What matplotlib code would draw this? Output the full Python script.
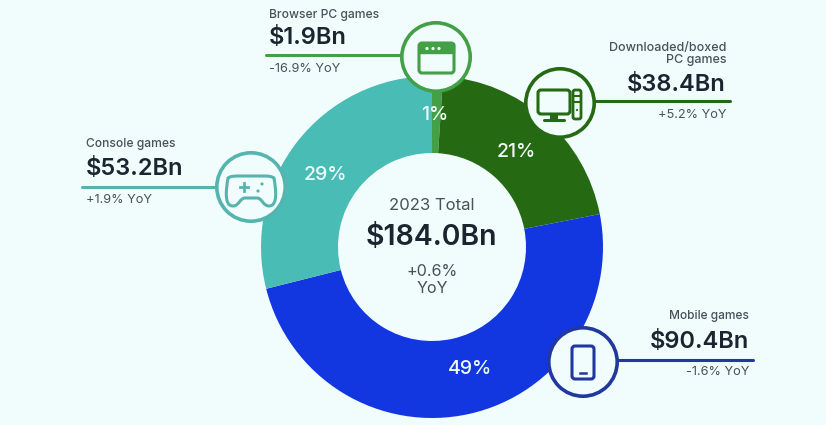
import matplotlib
matplotlib.use("Agg")
import matplotlib.pyplot as plt
from matplotlib.patches import Circle, FancyBboxPatch, Rectangle, PathPatch
from matplotlib.path import Path

categories = ["Browser PC games", "Downloaded/boxed\nPC games", "Mobile games", "Console games"]
revenue = [1.9, 38.4, 90.4, 53.2]
share_labels = ["1%", "21%", "49%", "29%"]
amounts = ["$1.9Bn", "$38.4Bn", "$90.4Bn", "$53.2Bn"]
yoy = ["-16.9% YoY", "+5.2% YoY", "-1.6% YoY", "+1.9% YoY"]
colors = ["#43A047", "#256A13", "#1237E0", "#49BDB5"]
line_colors = ["#43A047", "#256A13", "#22389F", "#55B5AE"]
total_title = "2023 Total"
total_amount = "$184.0Bn"
total_yoy = "+0.6%\nYoY"

W, H = 826, 425
BG = "#F1FCFD"
INK = "#1B2530"
GREY = "#47525A"
plt.rcParams["font.family"] = ["Inter", "DejaVu Sans"]

fig = plt.figure(figsize=(W / 100, H / 100), dpi=100, facecolor=BG)
ax = fig.add_axes([0, 0, 1, 1], facecolor=BG)
Y = lambda y: H - y

cx, cy, R, r = 432, 247, 171, 94
ax.pie(revenue, colors=colors, startangle=90, counterclock=False, center=(cx, Y(cy)), radius=R,
       wedgeprops=dict(width=R - r, linewidth=0), frame=False)
ax.set_xlim(0, W)
ax.set_ylim(0, H)
ax.set_aspect("equal")
ax.axis("off")

# share labels inside the ring
share_pos = [(435, 115), (516, 152), (470, 369), (325, 175)]
for (x, y), s in zip(share_pos, share_labels):
    ax.text(x, Y(y), s, color="#EFFBF8", fontsize=14, fontweight="medium", ha="center", va="center", zorder=6)

# centre text
ax.text(432, Y(205), total_title, color=GREY, fontsize=12, ha="center", va="center")
ax.text(431.5, Y(237), total_amount, color=INK, fontsize=20.5, fontweight="semibold", ha="center", va="center")
ax.text(432, Y(280), total_yoy, color=GREY, fontsize=11.6, ha="center", va="center", linespacing=1.15)

# callouts: circle centre, line span, line y, text anchor
circles = [(436, 57), (560, 103), (583, 362), (251, 187)]
spans = [(266, 402), (594, 730), (617, 753), (82, 217)]
line_y = [55, 101, 360, 187]
text_x = [269, 726, 749, 86]
aligns = ["left", "right", "right", "left"]
name_y = [15, 54, 316, 144]
amt_y = [38, 85, 342, 169]
yoy_y = [69, 115, 372, 200]
name_size = [8.7, 9.0, 8.6, 8.7]

for i in range(4):
    c = line_colors[i]
    ax.plot(spans[i], [Y(line_y[i])] * 2, color=c, lw=2.2, solid_capstyle="round", zorder=3)
    ax.add_patch(Circle((circles[i][0], Y(circles[i][1])), 34.2, facecolor=BG, edgecolor=c, lw=2.6, zorder=4))
    ax.text(text_x[i], Y(name_y[i]), categories[i], color=GREY, fontsize=name_size[i], fontweight="medium",
            ha=aligns[i], va="center", linespacing=1.1)
    ax.text(text_x[i], Y(amt_y[i]), amounts[i], color=INK, fontsize=17, fontweight="semibold",
            ha=aligns[i], va="center")
    ax.text(text_x[i], Y(yoy_y[i]), yoy[i], color=GREY, fontsize=9.2, ha=aligns[i], va="center")


def rrect(x0, y0, w, h, rad, **kw):
    kw.setdefault("zorder", 5)
    p = FancyBboxPatch((x0 + rad, Y(y0 + h) + rad), w - 2 * rad, h - 2 * rad,
                       boxstyle=f"round,pad={rad},rounding_size={rad}", **kw)
    ax.add_patch(p)
    return p


# browser icon
c = line_colors[0]
rrect(419, 43, 35, 30, 3, facecolor=BG, edgecolor=c, lw=2.2)
ax.add_patch(Rectangle((419, Y(53)), 35, 10, facecolor=c, edgecolor=c, lw=1, zorder=5))
for dx in (427, 433, 439):
    ax.add_patch(Circle((dx, Y(48.5)), 1.6, facecolor=BG, edgecolor="none", zorder=6))

# desktop icon
c = line_colors[1]
rrect(538, 90, 32, 24, 3, facecolor=BG, edgecolor=c, lw=2.2)
ax.add_patch(Rectangle((550, Y(120)), 8, 6, facecolor=c, edgecolor="none", zorder=5))
ax.plot([544, 564], [Y(120)] * 2, color=c, lw=2.2, solid_capstyle="round", zorder=5)
rrect(573, 90, 8, 29, 2, facecolor=BG, edgecolor=c, lw=2)
for yy in (96, 102):
    ax.plot([574, 580], [Y(yy)] * 2, color=c, lw=1.5, zorder=6)
ax.add_patch(Circle((577, Y(110)), 1.1, facecolor=c, edgecolor="none", zorder=6))

# phone icon
c = line_colors[2]
rrect(572, 346, 22, 33, 3, facecolor=BG, edgecolor=c, lw=2.2)
ax.plot([580, 586], [Y(373)] * 2, color=c, lw=1.8, zorder=6)

# gamepad icon
c = line_colors[3]
pad = [(240, 176), (262, 176), (268, 176), (271, 176), (274, 178), (276, 190), (278, 206), (269, 206),
       (263, 206), (262, 198), (257, 198), (245, 198), (240, 198), (239, 206), (233, 206),
       (224, 206), (226, 190), (228, 178), (231, 176), (234, 176), (240, 176)]
pad_codes = [Path.MOVETO, Path.LINETO] + [Path.CURVE4] * 6 + [Path.CURVE4] * 3 + [Path.LINETO] + [Path.CURVE4] * 9
ax.add_patch(PathPatch(Path([(x, Y(y)) for x, y in pad], pad_codes), facecolor=BG, edgecolor=c, lw=2.2,
                       joinstyle="round", zorder=5))
ax.plot([240, 248], [Y(187)] * 2, color=c, lw=2, zorder=6)
ax.plot([244, 244], [Y(183), Y(191)], color=c, lw=2, zorder=6)
ax.add_patch(Circle((262, Y(184)), 1.6, facecolor=c, edgecolor="none", zorder=6))
ax.add_patch(Circle((258, Y(191)), 1.6, facecolor=c, edgecolor="none", zorder=6))

fig.savefig("out.png", dpi=100, facecolor=BG)
